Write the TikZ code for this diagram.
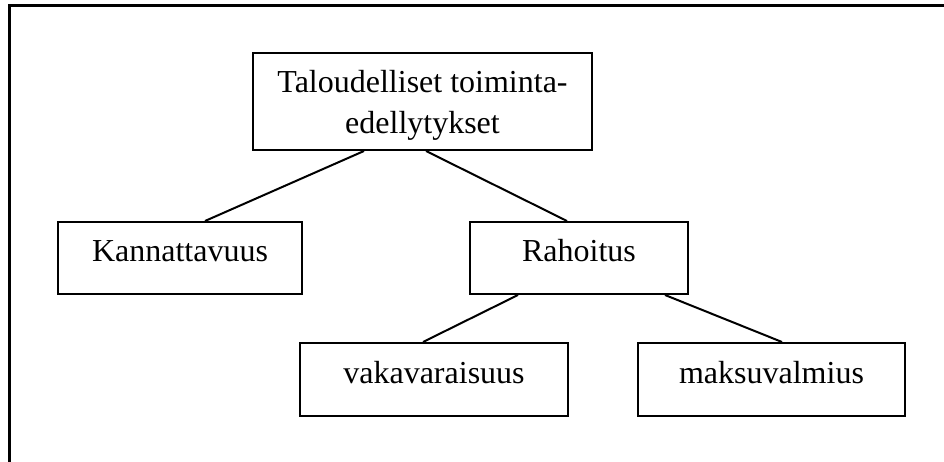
\documentclass[tikz,border=0pt]{standalone}
\usepackage{fontspec}
\setmainfont{Liberation Serif}
\begin{document}
\begin{tikzpicture}[x=1pt,y=-1pt,
  laatikko/.style={draw,line width=2pt,inner sep=0pt,align=center,
    font=\fontsize{32}{41}\selectfont},
  rivi/.style={text height=20pt,text depth=13pt},
  viiva/.style={line width=2pt}]
\useasboundingbox (0,0) rectangle (944,462);
\clip (0,0) rectangle (944,462);
% kehys, jatkuu kuvan reunan yli
\draw[line width=3pt] (960,6) -- (9,6) -- (9,480);
% ylin taso
\node[laatikko,minimum width=339pt,minimum height=97pt,text depth=0pt]
  (talous) at (422.5,101.5) {Taloudelliset toiminta-\\edellytykset};
% toinen taso
\node[laatikko,rivi,minimum width=244pt,minimum height=72pt]
  (kannatt) at (180,258) {Kannattavuus};
\node[laatikko,rivi,minimum width=218pt,minimum height=72pt]
  (rahoitus) at (579,258) {Rahoitus};
% kolmas taso
\node[laatikko,rivi,minimum width=268pt,minimum height=73pt]
  (vakav) at (434,379.5) {vakavaraisuus};
\node[laatikko,rivi,minimum width=267pt,minimum height=73pt]
  (maksuv) at (771.5,379.5) {maksuvalmius};
% yhdysviivat
\draw[viiva] ([xshift=-58.5pt]talous.south) -- ([xshift=25pt]kannatt.north);
\draw[viiva] ([xshift=3.5pt]talous.south) -- ([xshift=-12pt]rahoitus.north);
\draw[viiva] ([xshift=-61pt]rahoitus.south) -- ([xshift=-11pt]vakav.north);
\draw[viiva] ([xshift=86pt]rahoitus.south) -- ([xshift=10.5pt]maksuv.north);
\end{tikzpicture}
\end{document}
